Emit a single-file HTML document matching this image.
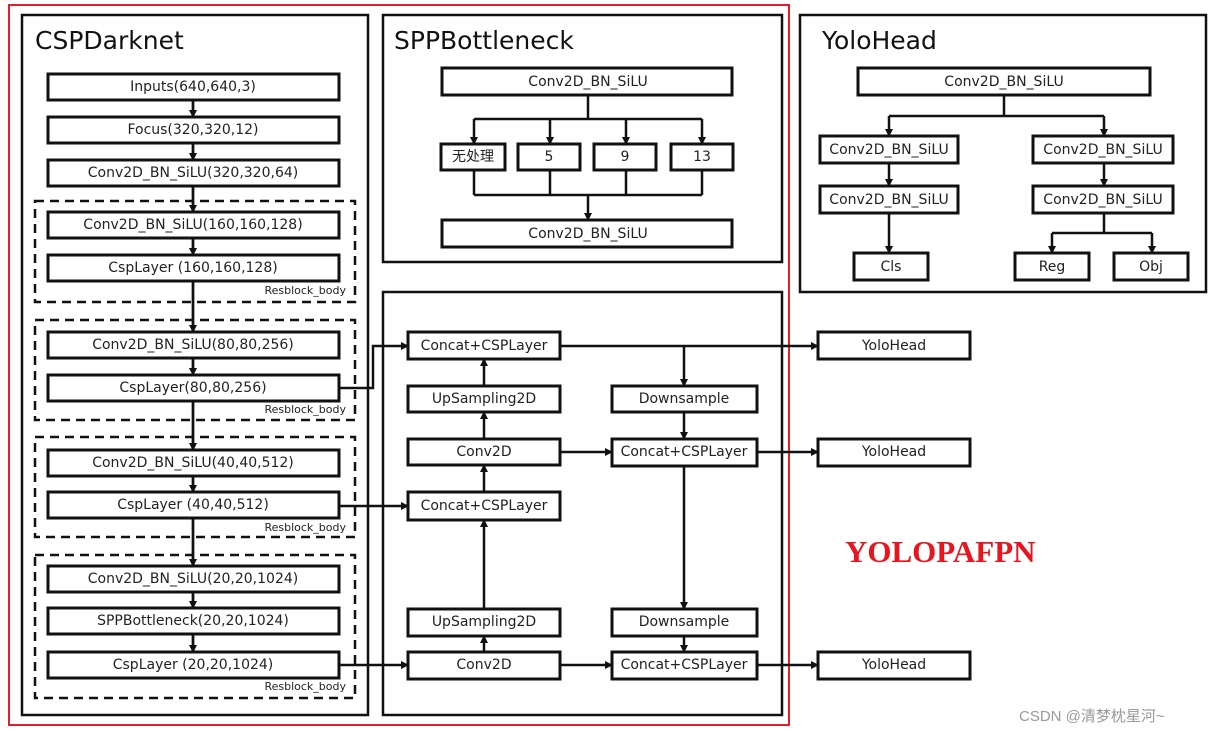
<!DOCTYPE html>
<html><head><meta charset="utf-8"><style>
html,body{margin:0;padding:0;background:#fff;}
svg{display:block;}
text{font-family:"DejaVu Sans","Liberation Sans","Noto Sans CJK SC",sans-serif;fill:#222;}
.b{fill:#fff;stroke:#111;stroke-width:3;}
.t{font-size:14px;text-anchor:middle;dominant-baseline:central;}
.l{stroke:#111;stroke-width:2.5;fill:none;}
.d{fill:none;stroke:#111;stroke-width:2.5;stroke-dasharray:9,6;}
.f{stroke:#111;stroke-width:2.5;fill:none;}
.rb{font-size:11px;text-anchor:end;}
.h{font-size:25px;fill:#111;}
</style></head><body>
<svg width="1217" height="733" viewBox="0 0 1217 733" xmlns="http://www.w3.org/2000/svg">
<defs><marker id="a" markerWidth="8" markerHeight="8" refX="7" refY="4" orient="auto" markerUnits="userSpaceOnUse"><path d="M0,0 L8,4 L0,8 z" fill="#111"/></marker></defs>
<rect x="0" y="0" width="1217" height="733" fill="#fff"/>
<rect x="9" y="5" width="780" height="720" fill="none" stroke="#e0202a" stroke-width="2"/>

<!-- CSPDarknet -->
<rect x="22" y="15" width="346" height="700" class="f"/>
<text x="35" y="49" class="h">CSPDarknet</text>
<line x1="193" y1="100" x2="193" y2="652" class="l"/>
<line x1="193" y1="100" x2="193" y2="117" class="l" marker-end="url(#a)"/>
<line x1="193" y1="143" x2="193" y2="160" class="l" marker-end="url(#a)"/>
<line x1="193" y1="186" x2="193" y2="212" class="l" marker-end="url(#a)"/>
<line x1="193" y1="238" x2="193" y2="255" class="l" marker-end="url(#a)"/>
<line x1="193" y1="281" x2="193" y2="332" class="l" marker-end="url(#a)"/>
<line x1="193" y1="358" x2="193" y2="375" class="l" marker-end="url(#a)"/>
<line x1="193" y1="401" x2="193" y2="450" class="l" marker-end="url(#a)"/>
<line x1="193" y1="476" x2="193" y2="492" class="l" marker-end="url(#a)"/>
<line x1="193" y1="518" x2="193" y2="566" class="l" marker-end="url(#a)"/>
<line x1="193" y1="592" x2="193" y2="608" class="l" marker-end="url(#a)"/>
<line x1="193" y1="634" x2="193" y2="652" class="l" marker-end="url(#a)"/>
<rect x="35" y="201" width="320" height="101" class="d"/>
<rect x="35" y="320" width="320" height="100" class="d"/>
<rect x="35" y="437" width="320" height="100" class="d"/>
<rect x="35" y="555" width="320" height="143" class="d"/>
<rect x="48" y="74" width="291" height="26" class="b"/><text x="193" y="87" class="t">Inputs(640,640,3)</text>
<rect x="48" y="117" width="291" height="26" class="b"/><text x="193" y="130" class="t">Focus(320,320,12)</text>
<rect x="48" y="160" width="291" height="26" class="b"/><text x="193" y="173" class="t">Conv2D_BN_SiLU(320,320,64)</text>
<rect x="48" y="212" width="291" height="26" class="b"/><text x="193" y="225" class="t">Conv2D_BN_SiLU(160,160,128)</text>
<rect x="48" y="255" width="291" height="26" class="b"/><text x="193" y="268" class="t">CspLayer (160,160,128)</text>
<text x="346" y="294" class="rb">Resblock_body</text>
<rect x="48" y="332" width="291" height="26" class="b"/><text x="193" y="345" class="t">Conv2D_BN_SiLU(80,80,256)</text>
<rect x="48" y="375" width="291" height="26" class="b"/><text x="193" y="388" class="t">CspLayer(80,80,256)</text>
<text x="346" y="413" class="rb">Resblock_body</text>
<rect x="48" y="450" width="291" height="26" class="b"/><text x="193" y="463" class="t">Conv2D_BN_SiLU(40,40,512)</text>
<rect x="48" y="492" width="291" height="26" class="b"/><text x="193" y="505" class="t">CspLayer (40,40,512)</text>
<text x="346" y="531" class="rb">Resblock_body</text>
<rect x="48" y="566" width="291" height="26" class="b"/><text x="193" y="579" class="t">Conv2D_BN_SiLU(20,20,1024)</text>
<rect x="48" y="608" width="291" height="26" class="b"/><text x="193" y="621" class="t">SPPBottleneck(20,20,1024)</text>
<rect x="48" y="652" width="291" height="26" class="b"/><text x="193" y="665" class="t">CspLayer (20,20,1024)</text>
<text x="346" y="690" class="rb">Resblock_body</text>

<!-- SPPBottleneck -->
<rect x="383" y="15" width="399" height="247" class="f"/>
<text x="394" y="49" class="h">SPPBottleneck</text>
<line x1="588" y1="95" x2="588" y2="119" class="l"/>
<line x1="474" y1="119" x2="702" y2="119" class="l"/>
<line x1="474" y1="119" x2="474" y2="144" class="l" marker-end="url(#a)"/>
<line x1="550" y1="119" x2="550" y2="144" class="l" marker-end="url(#a)"/>
<line x1="626" y1="119" x2="626" y2="144" class="l" marker-end="url(#a)"/>
<line x1="702" y1="119" x2="702" y2="144" class="l" marker-end="url(#a)"/>
<line x1="474" y1="170" x2="474" y2="195" class="l"/>
<line x1="550" y1="170" x2="550" y2="195" class="l"/>
<line x1="626" y1="170" x2="626" y2="195" class="l"/>
<line x1="702" y1="170" x2="702" y2="195" class="l"/>
<line x1="474" y1="195" x2="702" y2="195" class="l"/>
<line x1="588" y1="195" x2="588" y2="220" class="l" marker-end="url(#a)"/>
<rect x="442" y="68" width="290" height="27" class="b"/><text x="588" y="82" class="t">Conv2D_BN_SiLU</text>
<rect x="441" y="144" width="64" height="26" class="b"/><text x="473" y="157" class="t">无处理</text>
<rect x="518" y="144" width="62" height="26" class="b"/><text x="549" y="157" class="t">5</text>
<rect x="594" y="144" width="62" height="26" class="b"/><text x="625" y="157" class="t">9</text>
<rect x="671" y="144" width="62" height="26" class="b"/><text x="702" y="157" class="t">13</text>
<rect x="442" y="220" width="290" height="27" class="b"/><text x="588" y="234" class="t">Conv2D_BN_SiLU</text>

<!-- YoloHead -->
<rect x="800" y="15" width="406" height="277" class="f"/>
<text x="822" y="49" class="h">YoloHead</text>
<line x1="1004" y1="95" x2="1004" y2="116" class="l"/>
<line x1="889" y1="116" x2="1104" y2="116" class="l"/>
<line x1="889" y1="116" x2="889" y2="136" class="l" marker-end="url(#a)"/>
<line x1="1104" y1="116" x2="1104" y2="136" class="l" marker-end="url(#a)"/>
<line x1="889" y1="163" x2="889" y2="186" class="l" marker-end="url(#a)"/>
<line x1="1104" y1="163" x2="1104" y2="186" class="l" marker-end="url(#a)"/>
<line x1="889" y1="213" x2="889" y2="253" class="l" marker-end="url(#a)"/>
<line x1="1104" y1="213" x2="1104" y2="233" class="l"/>
<line x1="1052" y1="233" x2="1152" y2="233" class="l"/>
<line x1="1052" y1="233" x2="1052" y2="253" class="l" marker-end="url(#a)"/>
<line x1="1152" y1="233" x2="1152" y2="253" class="l" marker-end="url(#a)"/>
<rect x="858" y="68" width="292" height="27" class="b"/><text x="1004" y="82" class="t">Conv2D_BN_SiLU</text>
<rect x="820" y="136" width="138" height="27" class="b"/><text x="889" y="150" class="t">Conv2D_BN_SiLU</text>
<rect x="1033" y="136" width="140" height="27" class="b"/><text x="1103" y="150" class="t">Conv2D_BN_SiLU</text>
<rect x="820" y="186" width="138" height="27" class="b"/><text x="889" y="200" class="t">Conv2D_BN_SiLU</text>
<rect x="1033" y="186" width="140" height="27" class="b"/><text x="1103" y="200" class="t">Conv2D_BN_SiLU</text>
<rect x="854" y="253" width="74" height="27" class="b"/><text x="891" y="267" class="t">Cls</text>
<rect x="1015" y="253" width="74" height="27" class="b"/><text x="1052" y="267" class="t">Reg</text>
<rect x="1114" y="253" width="74" height="27" class="b"/><text x="1151" y="267" class="t">Obj</text>

<!-- PAFPN -->
<rect x="383" y="292" width="399" height="423" class="f"/>
<polyline points="339,388 373,388 373,346 408,346" class="l" marker-end="url(#a)"/>
<line x1="339" y1="506" x2="408" y2="506" class="l" marker-end="url(#a)"/>
<line x1="339" y1="665" x2="408" y2="665" class="l" marker-end="url(#a)"/>
<line x1="484" y1="652" x2="484" y2="636" class="l" marker-end="url(#a)"/>
<line x1="484" y1="609" x2="484" y2="520" class="l" marker-end="url(#a)"/>
<line x1="484" y1="492" x2="484" y2="465" class="l" marker-end="url(#a)"/>
<line x1="484" y1="439" x2="484" y2="412" class="l" marker-end="url(#a)"/>
<line x1="484" y1="386" x2="484" y2="359" class="l" marker-end="url(#a)"/>
<line x1="560" y1="346" x2="818" y2="346" class="l" marker-end="url(#a)"/>
<line x1="684" y1="346" x2="684" y2="386" class="l" marker-end="url(#a)"/>
<line x1="684" y1="412" x2="684" y2="439" class="l" marker-end="url(#a)"/>
<line x1="560" y1="452" x2="612" y2="452" class="l" marker-end="url(#a)"/>
<line x1="757" y1="452" x2="818" y2="452" class="l" marker-end="url(#a)"/>
<line x1="684" y1="466" x2="684" y2="609" class="l" marker-end="url(#a)"/>
<line x1="684" y1="636" x2="684" y2="652" class="l" marker-end="url(#a)"/>
<line x1="560" y1="665" x2="612" y2="665" class="l" marker-end="url(#a)"/>
<line x1="757" y1="665" x2="818" y2="665" class="l" marker-end="url(#a)"/>
<rect x="408" y="332" width="152" height="27" class="b"/><text x="484" y="346" class="t">Concat+CSPLayer</text>
<rect x="408" y="386" width="152" height="26" class="b"/><text x="484" y="399" class="t">UpSampling2D</text>
<rect x="408" y="439" width="152" height="26" class="b"/><text x="484" y="452" class="t">Conv2D</text>
<rect x="408" y="492" width="152" height="28" class="b"/><text x="484" y="506" class="t">Concat+CSPLayer</text>
<rect x="408" y="609" width="152" height="27" class="b"/><text x="484" y="622" class="t">UpSampling2D</text>
<rect x="408" y="652" width="152" height="27" class="b"/><text x="484" y="665" class="t">Conv2D</text>
<rect x="612" y="386" width="145" height="26" class="b"/><text x="684" y="399" class="t">Downsample</text>
<rect x="612" y="439" width="145" height="27" class="b"/><text x="684" y="452" class="t">Concat+CSPLayer</text>
<rect x="612" y="609" width="145" height="27" class="b"/><text x="684" y="622" class="t">Downsample</text>
<rect x="612" y="652" width="145" height="27" class="b"/><text x="684" y="665" class="t">Concat+CSPLayer</text>
<rect x="818" y="332" width="152" height="27" class="b"/><text x="894" y="346" class="t">YoloHead</text>
<rect x="818" y="439" width="152" height="27" class="b"/><text x="894" y="452" class="t">YoloHead</text>
<rect x="818" y="652" width="152" height="27" class="b"/><text x="894" y="665" class="t">YoloHead</text>

<text x="845" y="562" style="font-family:'Liberation Serif',serif;font-weight:bold;font-size:31px;fill:#e8141e;">YOLOPAFPN</text>
<text x="1019" y="721" style="font-family:'Liberation Sans','Noto Sans CJK SC',sans-serif;font-size:15px;fill:#999;">CSDN @清梦枕星河~</text>
</svg>
</body></html>
